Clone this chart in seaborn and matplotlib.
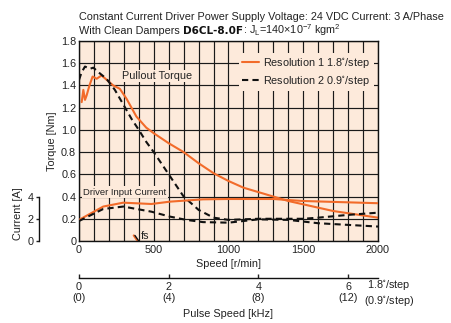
import numpy as np
import pandas as pd
import matplotlib
matplotlib.use("Agg")
import matplotlib.pyplot as plt
from matplotlib import font_manager
import seaborn as sns

# ---------------- data ----------------
speed_torque_r1 = [18, 29, 40, 51, 70, 91, 118, 151, 229, 273, 318, 384, 450, 500, 600, 700, 800, 900,
                   1000, 1100, 1200, 1300, 1400, 1500, 1600, 1700, 1800, 1900, 2000]
torque_r1 = [1.25, 1.36, 1.27, 1.31, 1.40, 1.48, 1.46, 1.49, 1.40, 1.37, 1.28, 1.12, 1.02, 0.97, 0.88,
             0.80, 0.70, 0.61, 0.54, 0.48, 0.44, 0.40, 0.36, 0.33, 0.30, 0.27, 0.25, 0.23, 0.21]

speed_torque_r2 = [0, 18, 40, 73, 96, 129, 184, 240, 300, 351, 400, 451, 500, 600, 700, 800, 900,
                   1000, 1100, 1200, 1400, 1500, 1600, 1800, 2000]
torque_r2 = [1.45, 1.52, 1.57, 1.55, 1.56, 1.52, 1.46, 1.36, 1.22, 1.10, 1.00, 0.89, 0.80, 0.60, 0.40,
             0.28, 0.21, 0.19, 0.195, 0.20, 0.20, 0.20, 0.21, 0.235, 0.255]

speed_current_r1 = [0, 162, 296, 484, 607, 829, 1000, 1300, 1500, 2000]
current_r1 = [1.9, 3.1, 3.45, 3.33, 3.54, 3.75, 3.78, 3.78, 3.6, 3.4]

speed_current_r2 = [0, 162, 296, 484, 607, 718, 829, 1000, 1100, 1200, 1400, 1500, 1600, 1800, 2000]
current_r2 = [1.8, 2.88, 3.1, 2.64, 2.2, 1.9, 1.7, 1.65, 1.8, 1.95, 1.9, 1.75, 1.6, 1.45, 1.3]

fs_speed = [366, 392]
fs_torque = [0.05, 0.0]

speed_ticks = [0, 500, 1000, 1500, 2000]
torque_ticks = [0, 0.2, 0.4, 0.6, 0.8, 1.0, 1.2, 1.4, 1.6, 1.8]
torque_ticklabels = ["0", "0.2", "0.4", "0.6", "0.8", "1.0", "1.2", "1.4", "1.6", "1.8"]
current_ticks = [0, 2, 4]
pulse_ticks = [0, 2, 4, 6]
pulse_ticklabels = ["0\n(0)", "2\n(4)", "4\n(8)", "6\n(12)"]

# ---------------- style ----------------
sns.set_theme(style="white")
names = {f.name for f in font_manager.fontManager.ttflist}
narrow = "Liberation Sans Narrow" in names
base_font = "Liberation Sans Narrow" if narrow else "Liberation Sans"
plt.rcParams["font.family"] = [base_font, "DejaVu Sans"]
plt.rcParams["mathtext.default"] = "regular"
FS = 9 if narrow else 7.8

ORANGE = "#F26B2A"
PEACH = "#FDEADB"
BLACK = "#111111"
TXT = "#222222"

fig = plt.figure(figsize=(4.52, 3.23), dpi=100)
W, H = 452, 323
L, R, T, B = 79, 378, 41, 241
ax = fig.add_axes([L / W, 1 - B / H, (R - L) / W, (B - T) / H])
ax.set_facecolor(PEACH)

ax.set_xlim(0, 2000)
ax.set_ylim(0, 1.8)
ax.set_xticks(speed_ticks)
ax.set_xticklabels([str(s) for s in speed_ticks], fontsize=FS)
ax.set_xticks(np.arange(0, 2001, 100), minor=True)
ax.set_yticks(torque_ticks)
ax.set_yticklabels(torque_ticklabels, fontsize=FS)
ax.grid(True, which="both", axis="x", color="#1a1a1a", lw=0.85)
ax.grid(True, which="major", axis="y", color="#1a1a1a", lw=0.85)
ax.set_axisbelow(True)
ax.tick_params(axis="both", which="both", direction="in", length=0, pad=2, colors=TXT)
ax.tick_params(axis="x", pad=3)
for s in ax.spines.values():
    s.set_color(BLACK)
    s.set_linewidth(1.0)

# torque curves
sns.lineplot(x=speed_torque_r1, y=torque_r1, ax=ax, color=ORANGE, lw=1.5, estimator=None,
             label="Resolution 1 1.8$^{\\circ}$/step", legend=False)
sns.lineplot(x=speed_torque_r2, y=torque_r2, ax=ax, color=BLACK, lw=1.5, estimator=None,
             linestyle=(0, (3, 2)), label="Resolution 2 0.9$^{\\circ}$/step", legend=False)
# fs marker
sns.lineplot(x=fs_speed, y=fs_torque, ax=ax, color=ORANGE, lw=1.5, estimator=None, legend=False)
sns.lineplot(x=[s + 8 for s in fs_speed], y=fs_torque, ax=ax, color=BLACK, lw=1.0,
             estimator=None, legend=False)
ax.text(415, 0.045, "fs", fontsize=FS, va="center", ha="left", color=TXT)

ax.set_xlabel("Speed [r/min]", fontsize=FS, labelpad=3, color=TXT)
ax.set_ylabel("Torque [Nm]", fontsize=FS, labelpad=3, color=TXT)

bbox = dict(facecolor=PEACH, edgecolor="none", pad=1.0)
ax.text(285, 1.485, "Pullout Torque", fontsize=FS, va="center", ha="left", color=TXT, bbox=bbox)
ax.text(28, 0.44, "Driver Input Current", fontsize=FS - 1.0, va="center", ha="left",
        color=TXT, bbox=bbox)

leg = ax.legend(handles=ax.lines[:2], loc="upper right", bbox_to_anchor=(0.985, 0.94),
                borderaxespad=0, frameon=True, fontsize=FS, handlelength=1.6, handletextpad=0.4,
                borderpad=0.3, labelspacing=0.35)
leg.get_frame().set_facecolor(PEACH)
leg.get_frame().set_edgecolor("none")
leg.get_frame().set_alpha(1)
for t in leg.get_texts():
    t.set_color(TXT)

# current axis
ax2 = ax.twinx()
ax2.set_ylim(0, 18)
for k in ["right", "top", "bottom"]:
    ax2.spines[k].set_visible(False)
ax2.spines["left"].set_visible(True)
ax2.spines["left"].set_position(("axes", -(L - 39) / (R - L)))
ax2.spines["left"].set_bounds(0, 4)
ax2.spines["left"].set_color(BLACK)
ax2.spines["left"].set_linewidth(1.0)
ax2.yaxis.tick_left()
ax2.yaxis.set_label_position("left")
ax2.set_yticks(current_ticks)
ax2.set_yticklabels([str(c) for c in current_ticks], fontsize=FS)
ax2.tick_params(axis="y", direction="out", length=2.5, width=1.0, pad=1.5, colors=TXT)
ax2.set_ylabel("Current [A]", fontsize=FS, color=TXT)
ax2.yaxis.set_label_coords((23 - L) / (R - L), (B - 214) / (B - T))

sns.lineplot(x=speed_current_r1, y=current_r1, ax=ax2, color=ORANGE, lw=1.5, estimator=None, legend=False)
sns.lineplot(x=speed_current_r2, y=current_r2, ax=ax2, color=BLACK, lw=1.5, estimator=None,
             linestyle=(0, (3, 2)), legend=False)
ax2.set_xlim(0, 2000)

# pulse speed axis
sec = ax.secondary_xaxis(-(278 - B) / (B - T), functions=(lambda x: x / 300.0, lambda k: k * 300.0))
sec.set_xticks(pulse_ticks)
sec.set_xticklabels(pulse_ticklabels, fontsize=FS, linespacing=1.1)
sec.tick_params(axis="x", direction="in", length=3, width=1.0, pad=3, colors=TXT)
sec.spines["bottom"].set_color(BLACK)
sec.spines["bottom"].set_linewidth(1.0)
sec.set_xlabel("Pulse Speed [kHz]", fontsize=FS, labelpad=4, color=TXT)
fig.text(389 / W, 1 - 293 / H, "1.8$^{\\circ}$/step\n(0.9$^{\\circ}$/step)", fontsize=FS,
         ha="center", va="center", linespacing=1.1, color=TXT)

# title lines
fig.text(79 / W, 1 - 20 / H, "Constant Current Driver Power Supply Voltage: 24 VDC Current: 3 A/Phase",
         fontsize=FS, ha="left", va="baseline", color=TXT)
renderer = fig.canvas.get_renderer()
x0 = 79 / W
y2 = 1 - 34 / H
t1 = fig.text(x0, y2, "With Clean Dampers ", fontsize=FS, ha="left", va="baseline", color=TXT)
x1 = t1.get_window_extent(renderer).x1 / fig.bbox.width
t2 = fig.text(x1, y2, "D6CL-8.0F", fontsize=FS - 0.3, ha="left", va="baseline", color="#111111",
              family=["DejaVu Sans"], weight="bold")
x2 = t2.get_window_extent(renderer).x1 / fig.bbox.width
fig.text(x2, y2, ": J$_{L}$=140×10$^{-7}$ kgm$^{2}$", fontsize=FS, ha="left", va="baseline",
         color=TXT)

fig.savefig("out.png", dpi=100)
